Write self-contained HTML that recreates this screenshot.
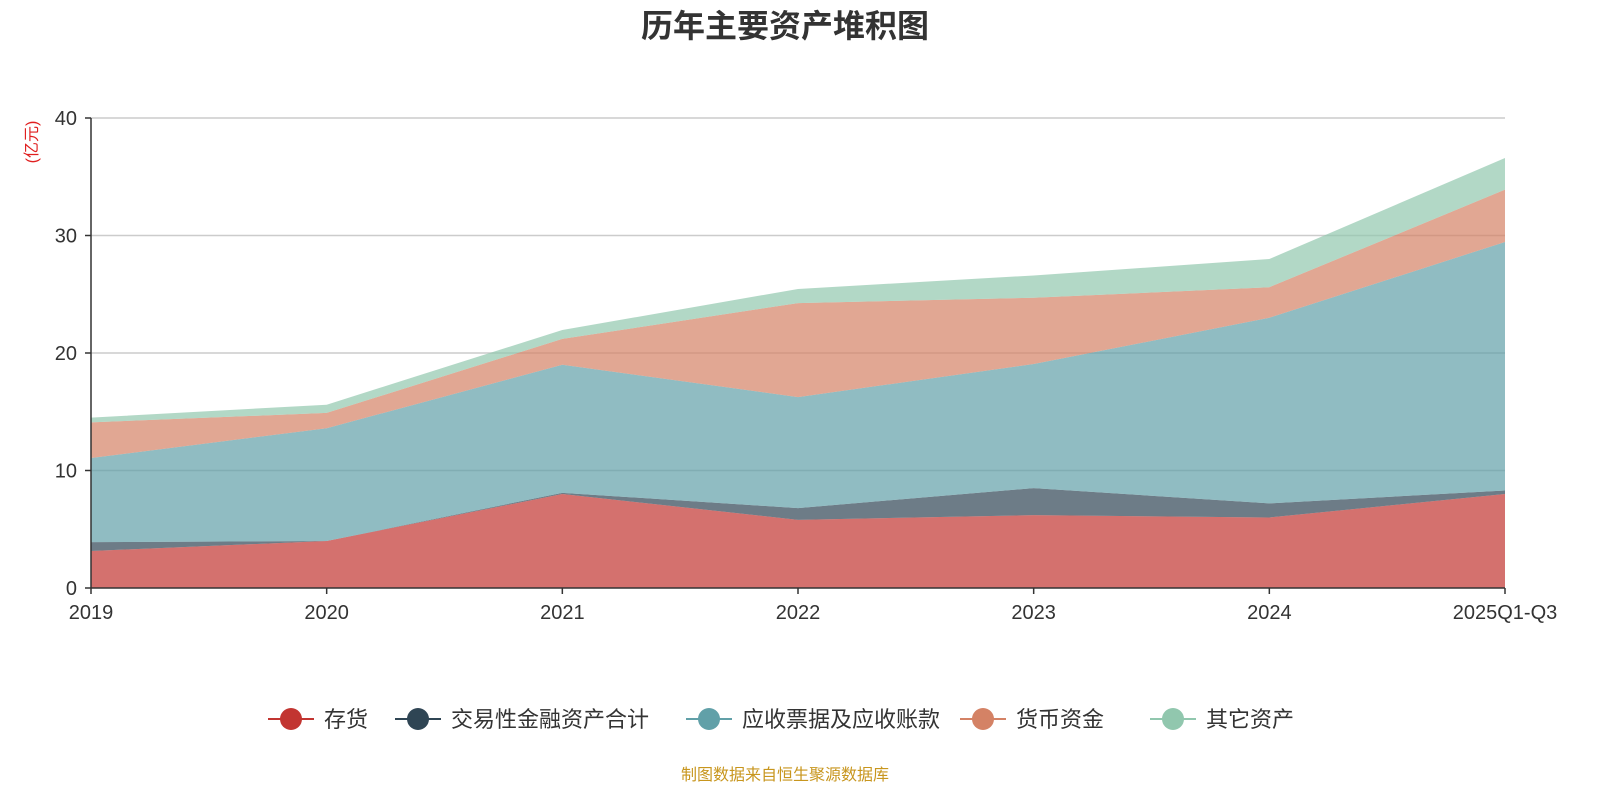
<!DOCTYPE html>
<html><head><meta charset="utf-8">
<style>
body{margin:0;background:#fff;width:1600px;height:800px;overflow:hidden;font-family:"Liberation Sans","Noto Sans CJK SC",sans-serif;}
svg text{font-family:"Liberation Sans","Noto Sans CJK SC",sans-serif;}
</style></head>
<body>
<svg id="chart" width="1600" height="800" xmlns="http://www.w3.org/2000/svg">
<text x="785" y="37" text-anchor="middle" font-size="32" font-weight="bold" fill="#333">历年主要资产堆积图</text>
<text transform="translate(37,142) rotate(-90)" text-anchor="middle" font-size="16" fill="#e02020">(亿元)</text>
<g id="grid"></g><g id="areas"></g><g id="axes"></g><g id="legend"></g>
<text x="785" y="780" text-anchor="middle" font-size="16" fill="#c8961e">制图数据来自恒生聚源数据库</text>
</svg>
<script>
const categories=["2019","2020","2021","2022","2023","2024","2025Q1-Q3"];
const seriesNames=["存货","交易性金融资产合计","应收票据及应收账款","货币资金","其它资产"];
const inventory=[3.15,4.0,8.0,5.8,6.2,6.0,8.0];
const tradingAssets=[0.75,0.0,0.1,1.0,2.3,1.2,0.3];
const receivables=[7.16,9.6,10.9,9.45,10.56,15.8,21.15];
const cash=[3.04,1.3,2.2,8.0,5.64,2.6,4.45];
const otherAssets=[0.4,0.7,0.76,1.2,1.9,2.4,2.7];
const yTicks=[0,10,20,30,40];
const seriesData=[inventory,tradingAssets,receivables,cash,otherAssets];
const colors=["#c23531","#2f4554","#61a0a8","#d48265","#91c7ae"];
const dispNames=["inventory","trading-assets","receivables","cash","other-assets"];
const X0=91,X1=1505,Y0=588,Y1=118,YMAX=40;
const xs=i=>X0+i*(X1-X0)/(categories.length-1);
const ys=v=>Y0-v*(Y0-Y1)/YMAX;
const NS="http://www.w3.org/2000/svg";
function mk(tag,attrs,parent,text){const e=document.createElementNS(NS,tag);for(const k in attrs)e.setAttribute(k,attrs[k]);if(text!==undefined)e.textContent=text;parent.appendChild(e);return e;}
const grid=document.getElementById('grid'),areas=document.getElementById('areas'),axes=document.getElementById('axes'),legend=document.getElementById('legend');
yTicks.forEach(t=>{
 if(t>0){const l=mk('line',{x1:X0,x2:X1,y1:ys(t),y2:ys(t),stroke:'#ccc','stroke-width':1.5},grid);
 
 }
 const tl=mk('text',{x:X0-14,y:ys(t)+7,'text-anchor':'end','font-size':20,fill:'#333'},axes,String(t));
 
 
 mk('line',{x1:X0-6,x2:X0,y1:ys(t),y2:ys(t),stroke:'#333','stroke-width':1.5},axes);
});
let base=categories.map(()=>0);
seriesData.forEach((s,k)=>{
 const top=base.map((b,i)=>b+s[i]);
 let d='';
 top.forEach((v,i)=>{d+=(i?'L':'M')+xs(i)+','+ys(v);});
 for(let i=categories.length-1;i>=0;i--)d+='L'+xs(i)+','+ys(base[i]);
 d+='Z';
 const p=mk('path',{d:d,fill:colors[k],'fill-opacity':0.7,stroke:'none'},areas);
 
 
 base=top;
});
mk('line',{x1:X0,x2:X0,y1:Y1,y2:Y0,stroke:'#333','stroke-width':1.5},axes);
mk('line',{x1:X0,x2:X1,y1:Y0,y2:Y0,stroke:'#333','stroke-width':1.5},axes);
categories.forEach((c,i)=>{
 mk('line',{x1:xs(i),x2:xs(i),y1:Y0,y2:Y0+6,stroke:'#333','stroke-width':1.5},axes);
 const t=mk('text',{x:xs(i),y:Y0+31,'text-anchor':'middle','font-size':20,fill:'#333'},axes,c);
 
 
});
const legX=[268,395,686,960,1150];
seriesNames.forEach((n,k)=>{
 const g=mk('g',{},legend);
 
 
 const x=legX[k];
 mk('line',{x1:x,x2:x+46,y1:719,y2:719,stroke:colors[k],'stroke-width':2},g);
 mk('circle',{cx:x+23,cy:719,r:11,fill:colors[k]},g);
 mk('text',{x:x+56,y:727,'font-size':22,fill:'#333'},g,n);
});
</script>
</body></html>
